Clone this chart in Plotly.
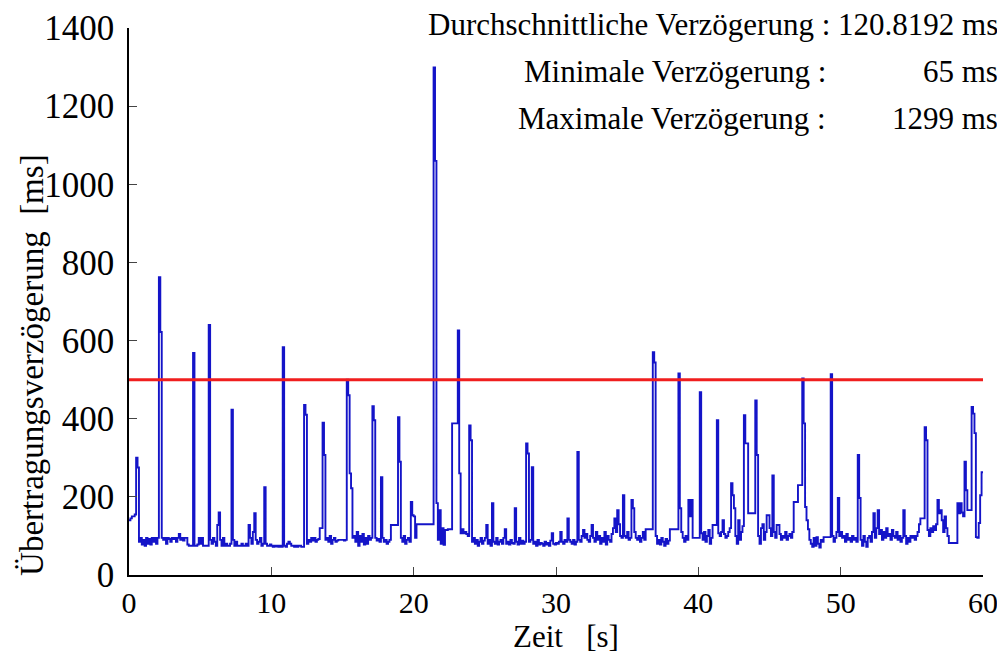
import plotly.graph_objects as go

# Delay samples, one row per second (0.1 s step), values in ms
delay_rows = [
    [140, 145, 150, 150, 155, 300, 275, 85, 95, 78],
    [90, 75, 95, 80, 92, 78, 95, 85, 95, 80],
    [95, 762, 622, 95, 90, 95, 80, 95, 92, 85],
    [95, 92, 95, 85, 95, 105, 90, 95, 88, 95],
    [95, 78, 75, 75, 75, 568, 75, 75, 78, 95],
    [80, 95, 75, 75, 75, 75, 640, 90, 80, 95],
    [85, 75, 128, 160, 90, 75, 95, 75, 80, 75],
    [75, 80, 423, 90, 75, 85, 75, 75, 75, 80],
    [75, 75, 80, 75, 128, 95, 80, 110, 158, 90],
    [80, 85, 95, 75, 80, 225, 80, 75, 75, 78],
    [75, 72, 75, 73, 75, 72, 75, 72, 583, 75],
    [72, 80, 85, 80, 75, 75, 72, 75, 72, 75],
    [75, 72, 72, 435, 410, 80, 90, 85, 95, 88],
    [95, 85, 90, 92, 120, 120, 390, 307, 90, 95],
    [85, 100, 80, 90, 95, 85, 88, 90, 90, 90],
    [90, 88, 90, 500, 460, 260, 222, 95, 100, 85],
    [110, 75, 100, 85, 105, 78, 95, 80, 100, 90],
    [95, 432, 396, 95, 88, 92, 85, 250, 95, 85],
    [90, 80, 85, 90, 128, 128, 128, 128, 128, 404],
    [290, 95, 85, 100, 80, 90, 95, 85, 187, 153],
    [150, 95, 130, 130, 130, 130, 130, 130, 130, 130],
    [130, 130, 130, 130, 1299, 1060, 184, 90, 166, 80],
    [120, 77, 115, 115, 117, 117, 117, 388, 388, 388],
    [388, 626, 260, 107, 117, 107, 110, 105, 100, 383],
    [345, 85, 95, 80, 90, 75, 85, 95, 80, 88],
    [95, 128, 80, 90, 75, 184, 85, 80, 95, 78],
    [85, 90, 80, 95, 117, 80, 85, 78, 90, 82],
    [80, 171, 85, 78, 95, 80, 88, 80, 85, 337],
    [311, 85, 90, 276, 80, 85, 75, 90, 78, 82],
    [80, 75, 85, 78, 82, 75, 88, 107, 80, 78],
    [82, 80, 85, 110, 85, 80, 90, 85, 145, 90],
    [85, 80, 90, 78, 85, 315, 90, 85, 100, 115],
    [95, 105, 90, 85, 100, 128, 95, 85, 110, 90],
    [100, 80, 95, 85, 110, 78, 100, 90, 85, 105],
    [120, 145, 110, 166, 130, 100, 95, 204, 100, 95],
    [110, 90, 95, 192, 171, 110, 95, 90, 100, 85],
    [95, 110, 90, 117, 117, 117, 117, 117, 570, 544],
    [100, 80, 90, 78, 95, 85, 75, 92, 80, 88],
    [117, 117, 117, 117, 117, 117, 516, 171, 110, 95],
    [85, 100, 90, 192, 150, 192, 95, 95, 95, 95],
    [95, 468, 107, 90, 110, 85, 100, 115, 80, 95],
    [128, 128, 128, 396, 107, 100, 110, 140, 105, 95],
    [100, 110, 120, 235, 204, 171, 100, 80, 140, 90],
    [110, 125, 409, 337, 337, 158, 158, 158, 158, 158],
    [447, 307, 100, 80, 120, 130, 90, 110, 153, 153],
    [120, 100, 255, 110, 95, 128, 128, 105, 90, 100],
    [95, 110, 90, 100, 105, 95, 110, 187, 187, 187],
    [230, 230, 230, 503, 388, 174, 140, 117, 90, 80],
    [72, 95, 75, 97, 80, 70, 90, 85, 97, 97],
    [97, 97, 97, 514, 100, 85, 95, 110, 197, 100],
    [110, 95, 100, 85, 105, 90, 95, 85, 100, 90],
    [95, 85, 307, 197, 90, 75, 100, 85, 72, 95],
    [100, 85, 110, 158, 95, 120, 166, 105, 115, 90],
    [110, 95, 120, 100, 105, 90, 115, 100, 95, 110],
    [90, 100, 85, 95, 166, 100, 80, 95, 85, 100],
    [95, 100, 90, 100, 110, 130, 145, 145, 145, 378],
    [345, 115, 100, 120, 110, 125, 115, 130, 192, 158],
    [166, 140, 110, 150, 120, 100, 82, 82, 82, 82],
    [82, 82, 184, 158, 184, 160, 150, 290, 217, 166],
    [166, 166, 430, 413, 363, 97, 95, 133, 204, 263],
]
final_value = 263
sample_step = 0.1
threshold_ms = 500

x_ticks = [0, 10, 20, 30, 40, 50, 60]
y_ticks = [0, 200, 400, 600, 800, 1000, 1200, 1400]

delays = [v for row in delay_rows for v in row] + [final_value]
times = [round(i * sample_step, 1) for i in range(len(delays))]

fig = go.Figure()
fig.add_trace(go.Scatter(
    x=times, y=delays, mode="lines", line_shape="hv",
    line=dict(color="rgb(20,20,200)", width=1.9), showlegend=False,
))
fig.add_trace(go.Scatter(
    x=[x_ticks[0], x_ticks[-1]], y=[threshold_ms, threshold_ms], mode="lines",
    line=dict(color="rgb(240,30,30)", width=3), showlegend=False,
))

font_family = "Liberation Serif, Times New Roman, serif"
# page body has an 8px margin, so the figure is sized to the remaining area
fig.update_layout(
    width=997, height=647,
    margin=dict(l=121, r=22, t=20, b=80),
    paper_bgcolor="white", plot_bgcolor="white",
    font=dict(family=font_family, color="black"),
    xaxis=dict(range=[0, 60], tickvals=x_ticks, ticks="inside", ticklen=8,
               showline=True, linecolor="black", linewidth=1.5, showgrid=False,
               zeroline=False, tickfont=dict(size=30), automargin=False),
    yaxis=dict(range=[0, 1400], tickvals=y_ticks, ticks="inside", ticklen=8,
               showline=True, linecolor="black", linewidth=1.5, showgrid=False,
               zeroline=False, tickfont=dict(size=35), automargin=False,
               ticklabelstandoff=6),
)

fig.add_annotation(xref="paper", yref="paper", x=0.512, y=-0.112, xanchor="center", yanchor="middle",
                   text="Zeit&nbsp;&nbsp;&nbsp;[s]", showarrow=False,
                   font=dict(family=font_family, size=31, color="black"))
fig.add_annotation(xref="paper", yref="paper", x=-0.113, y=0.385, xanchor="center", yanchor="middle",
                   text="Übertragungsverzögerung&nbsp;&nbsp;[ms]", textangle=-90, showarrow=False,
                   font=dict(family=font_family, size=33, color="black"))

ann_font = dict(family=font_family, size=31, color="black")
fig.add_annotation(xref="paper", yref="paper", x=1.02, y=1.007, xanchor="right", yanchor="middle",
                   text="Durchschnittliche Verzögerung : 120.8192 ms", showarrow=False, font=ann_font)
fig.add_annotation(xref="paper", yref="paper", x=0.818, y=0.92, xanchor="right", yanchor="middle",
                   text="Minimale Verzögerung :", showarrow=False, font=ann_font)
fig.add_annotation(xref="paper", yref="paper", x=1.02, y=0.92, xanchor="right", yanchor="middle",
                   text="65 ms", showarrow=False, font=ann_font)
fig.add_annotation(xref="paper", yref="paper", x=0.818, y=0.835, xanchor="right", yanchor="middle",
                   text="Maximale Verzögerung :", showarrow=False, font=ann_font)
fig.add_annotation(xref="paper", yref="paper", x=1.02, y=0.835, xanchor="right", yanchor="middle",
                   text="1299 ms", showarrow=False, font=ann_font)

fig.write_html("out.html")
